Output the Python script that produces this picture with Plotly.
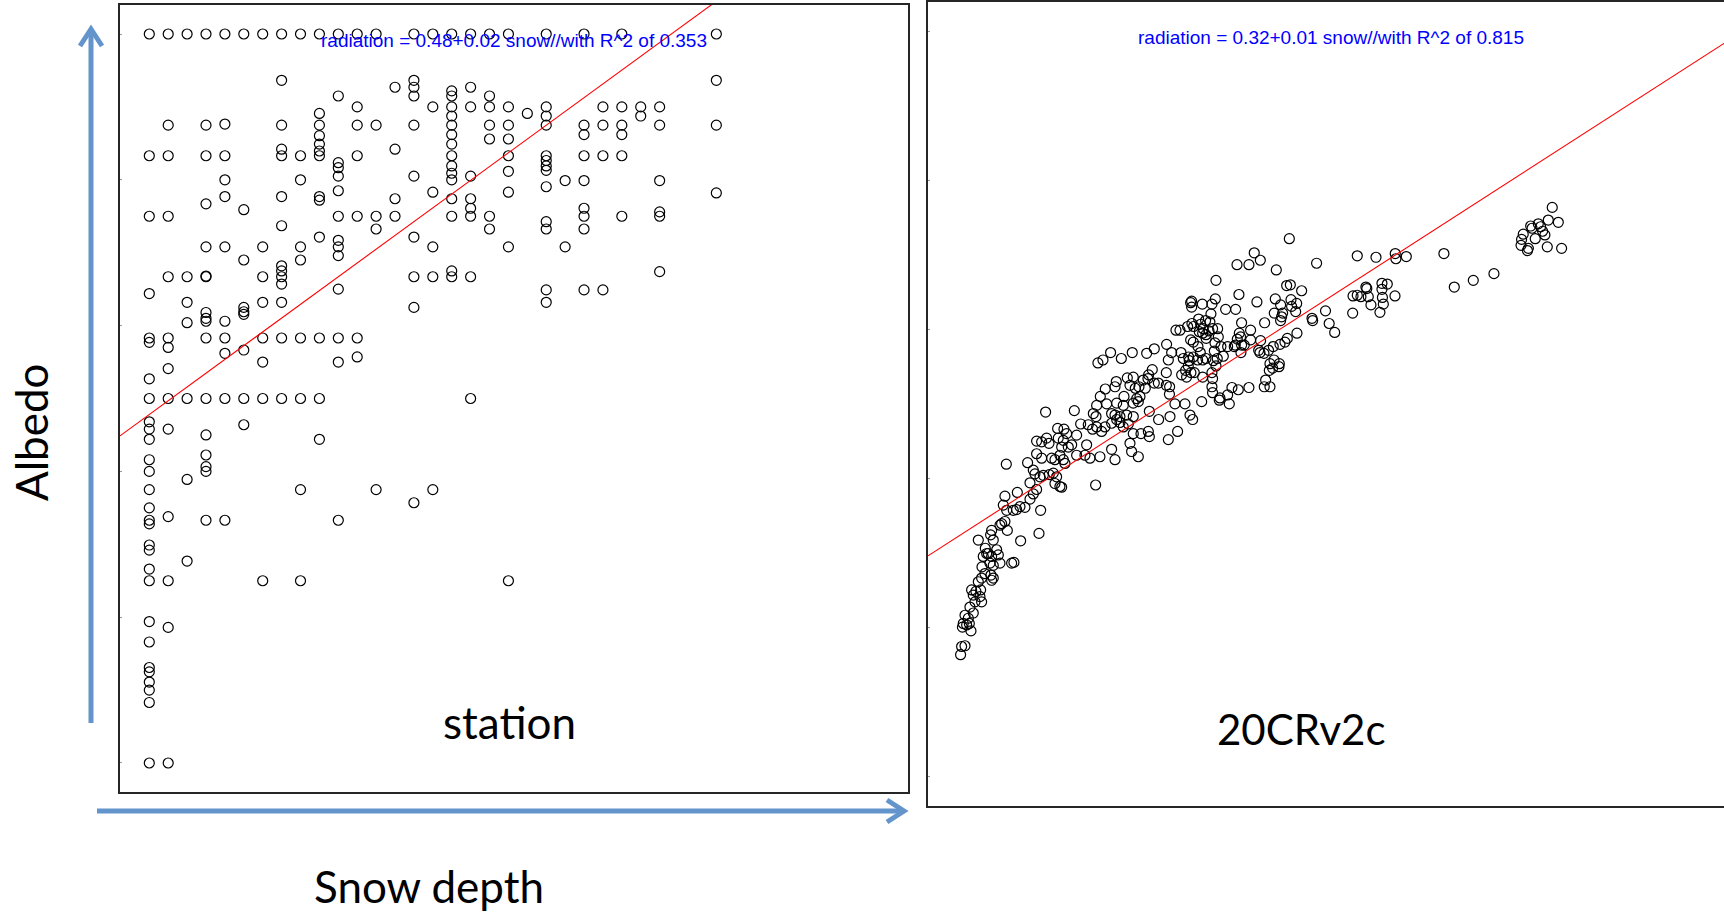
import plotly.graph_objects as go

# ---------------------------------------------------------------
# Station observations: snow depth (cm) against surface albedo
# ---------------------------------------------------------------
station_depth = (
    [0] * 29 + [1] * 14 + [2] * 7 + [3] * 17 + [4] * 11 + [5] * 9 + [6] * 8
    + [7] * 14 + [8] * 9 + [9] * 13 + [10] * 14 + [11] * 7 + [12] * 5
    + [13] * 4 + [14] * 10 + [15] * 6 + [16] * 16 + [17] * 9 + [18] * 7
    + [19] * 9 + [20] * 1 + [21] * 13 + [22] * 2 + [23] * 9 + [24] * 4
    + [25] * 6 + [26] * 2 + [27] * 6 + [30] * 4
)
station_albedo = [
    # depth 0
    1.0, 0.833, 0.75, 0.644, 0.583, 0.577, 0.527, 0.5, 0.468, 0.458,
    0.444, 0.416, 0.4, 0.375, 0.35, 0.333, 0.328, 0.299, 0.292, 0.266,
    0.25, 0.194, 0.166, 0.131, 0.125, 0.111, 0.1, 0.083, 0.0,
    # depth 1
    1.0, 0.875, 0.833, 0.75, 0.667, 0.583, 0.57, 0.541, 0.5, 0.458,
    0.338, 0.25, 0.186, 0.0,
    # depth 2
    1.0, 0.667, 0.632, 0.604, 0.5, 0.389, 0.277,
    # depth 3
    1.0, 0.875, 0.833, 0.767, 0.708, 0.668, 0.667, 0.618, 0.61, 0.606,
    0.583, 0.5, 0.45, 0.4225, 0.4065, 0.4, 0.333,
    # depth 4
    1.0, 0.8765, 0.833, 0.8, 0.777, 0.708, 0.606, 0.583, 0.562, 0.5, 0.333,
    # depth 5
    1.0, 0.759, 0.69, 0.625, 0.619, 0.6155, 0.5665, 0.5, 0.464,
    # depth 6
    1.0, 0.708, 0.667, 0.632, 0.583, 0.55, 0.5, 0.25,
    # depth 7
    1.0, 0.9365, 0.875, 0.842, 0.833, 0.777, 0.737, 0.682, 0.675, 0.667,
    0.657, 0.632, 0.583, 0.5,
    # depth 8
    1.0, 0.833, 0.8, 0.708, 0.69, 0.583, 0.5, 0.375, 0.25,
    # depth 9
    1.0, 0.891, 0.875, 0.8605, 0.849, 0.8395, 0.833, 0.777, 0.772, 0.7215,
    0.583, 0.5, 0.444,
    # depth 10
    1.0, 0.915, 0.8235, 0.8166, 0.805, 0.785, 0.75, 0.717, 0.708, 0.696,
    0.65, 0.583, 0.55, 0.333,
    # depth 11
    1.0, 0.9, 0.875, 0.833, 0.75, 0.583, 0.557,
    # depth 12
    1.0, 0.875, 0.75, 0.7325, 0.375,
    # depth 13
    0.927, 0.842, 0.774, 0.75,
    # depth 14
    1.0, 0.9365, 0.927, 0.915, 0.875, 0.805, 0.7215, 0.667, 0.625, 0.357,
    # depth 15
    1.0, 0.9, 0.783, 0.708, 0.667, 0.375,
    # depth 16
    1.0, 0.922, 0.915, 0.9, 0.8875, 0.875, 0.862, 0.849, 0.833, 0.819,
    0.809, 0.8, 0.774, 0.75, 0.675, 0.667,
    # depth 17
    1.0, 0.927, 0.9, 0.805, 0.774, 0.761, 0.75, 0.667, 0.5,
    # depth 18
    1.0, 0.915, 0.9, 0.875, 0.856, 0.75, 0.7325,
    # depth 19
    1.0, 0.9, 0.875, 0.856, 0.833, 0.8117, 0.783, 0.708, 0.25,
    # depth 20
    0.891,
    # depth 21
    1.0, 0.9, 0.8875, 0.875, 0.833, 0.8265, 0.819, 0.813, 0.7905, 0.7425,
    0.7325, 0.649, 0.632,
    # depth 22
    0.799, 0.708,
    # depth 23
    1.0, 0.875, 0.862, 0.833, 0.799, 0.761, 0.75, 0.7325, 0.649,
    # depth 24
    0.9, 0.875, 0.833, 0.649,
    # depth 25
    1.0, 0.9, 0.875, 0.862, 0.833, 0.75,
    # depth 26
    0.9, 0.8875,
    # depth 27
    0.9, 0.875, 0.799, 0.756, 0.75, 0.674,
    # depth 30
    1.0, 0.9365, 0.875, 0.782,
]
station_fit = (0.478, 0.0189)      # intercept, slope of the least-squares line
station_r2 = 0.353

# ---------------------------------------------------------------
# 20CRv2c reanalysis: snow depth (cm) against surface albedo
# ---------------------------------------------------------------
reanalysis_depth = [
    9.51, 12.64, 13.33, 14.71, 15.00, 15.07, 16.16, 17.25, 17.97, 19.06,
    19.61, 16.70, 17.07, 17.61, 18.34, 19.06, 20.81, 21.82, 23.06, 23.60,
    24.69, 25.24, 25.53, 26.51, 28.43, 29.52, 14.16, 14.63, 15.07, 15.61,
    15.98, 16.70, 17.25, 17.61, 17.97, 18.52, 19.06, 19.90, 20.70, 20.81,
    22.88, 23.89, 12.89, 10.82, 11.51, 11.80, 10.89, 11.44, 11.26, 11.98,
    12.35, 8.53, 9.08, 9.62, 9.88, 8.53, 9.08, 10.17, 10.53, 11.07,
    11.44, 11.62, 12.89, 13.98, 13.80, 14.34, 15.43, 16.70, 17.07, 18.70,
    18.88, 19.61, 5.23, 7.55, 8.17, 8.35, 8.90, 9.26, 9.91, 10.35,
    10.71, 10.53, 11.07, 11.26, 14.96, 7.81, 8.53, 8.17, 7.81, 6.72,
    7.26, 6.35, 5.99, 5.27, 4.90, 5.08, 6.43, 8.97, 4.72, 5.08,
    5.34, 4.54, 3.63, 3.52, 3.81, 2.18, 6.79, 8.79, 2.94, 3.09,
    2.72, 3.27, 3.63, 4.18, 4.36, 4.54, 3.45, 3.81, 5.81, 6.06,
    2.58, 2.90, 2.54, 2.18, 3.56, 3.81, 3.63, 1.45, 1.92, 2.43,
    1.63, 2.36, 2.54, 1.82, 1.27, 1.63, 0.73, 1.09, 0.54, 1.20,
    0.91, 1.38, 0.45, 0.36, 0.73, 0.25,
    36.06, 32.24, 32.90, 30.36, 31.66, 34.64, 28.07, 35.77, 36.17, 30.57,
    28.00, 25.42, 25.31, 25.42, 26.58, 27.63, 32.53, 34.53, 36.24, 36.86,
    36.31, 35.11, 34.42, 35.33, 35.22, 35.11, 36.75, 29.12, 30.21, 27.52,
    30.86, 33.37, 36.89, 26.18, 26.94, 26.40, 27.41, 26.69, 27.70, 27.31,
    26.25, 26.62, 26.98, 25.45, 24.98, 25.63, 28.25, 31.84, 23.71, 24.15,
    30.61, 30.75, 30.39, 31.84, 30.17, 30.86, 32.93, 35.04, 35.58, 28.32,
    27.96, 27.00, 25.31, 25.60, 26.11, 27.89, 28.61, 29.34, 30.06, 31.15,
    30.79, 32.72, 33.80, 34.31, 32.86, 33.30, 34.39, 33.95, 34.97, 34.24,
    34.93, 22.69, 21.35, 20.52, 18.95, 16.59, 15.76, 15.21, 17.76, 22.88,
    23.24, 24.26, 24.51, 25.09, 25.60, 25.16, 25.05, 26.36, 26.62, 26.07,
    26.98, 28.21, 27.78, 28.07, 28.87, 24.76, 25.34, 25.71, 24.33, 24.87,
    27.63, 26.62, 27.70, 27.63, 27.70, 28.50, 29.34, 29.81, 30.50, 31.66,
    22.66, 22.66, 23.02, 23.00, 20.73, 21.13, 20.66, 20.15, 20.37, 19.06,
    18.41, 18.70, 19.28, 19.68, 19.79, 19.43, 18.05, 17.21, 17.07, 16.01,
    15.47, 21.35, 21.79, 33.33, 33.95, 33.48, 33.88, 35.84,
    39.03, 43.46, 45.50, 47.60, 47.67, 48.80, 52.90, 54.03, 56.10, 58.35,
    37.40, 38.53, 38.60, 40.00, 40.40, 41.00, 42.96, 43.00, 43.46, 43.86,
    44.40, 44.50, 44.66, 44.95, 45.93, 46.15, 46.73, 46.15, 46.20, 46.30,
    47.57, 61.30, 61.36, 61.54, 62.00, 62.10, 62.35, 62.50, 62.85, 63.18,
    63.43, 63.65, 63.90, 64.16, 64.27, 64.70, 65.36, 65.72,
]
reanalysis_albedo = [
    0.489, 0.491, 0.473, 0.487, 0.483, 0.498, 0.500, 0.501, 0.498, 0.501,
    0.503, 0.487, 0.485, 0.483, 0.485, 0.483, 0.490, 0.479, 0.483, 0.500,
    0.500, 0.485, 0.479, 0.503, 0.505, 0.500, 0.472, 0.466, 0.469, 0.463,
    0.469, 0.474, 0.479, 0.475, 0.469, 0.473, 0.460, 0.460, 0.463, 0.456,
    0.452, 0.463, 0.458, 0.467, 0.466, 0.460, 0.454, 0.451, 0.442, 0.442,
    0.445, 0.450, 0.449, 0.454, 0.447, 0.433, 0.427, 0.427, 0.425, 0.431,
    0.425, 0.420, 0.431, 0.445, 0.431, 0.427, 0.429, 0.439, 0.425, 0.447,
    0.436, 0.429, 0.419, 0.421, 0.411, 0.406, 0.402, 0.404, 0.405, 0.407,
    0.402, 0.393, 0.389, 0.388, 0.391, 0.394, 0.385, 0.379, 0.372, 0.362,
    0.361, 0.358, 0.357, 0.357, 0.364, 0.376, 0.381, 0.357, 0.339, 0.342,
    0.330, 0.337, 0.330, 0.324, 0.317, 0.317, 0.316, 0.326, 0.306, 0.299,
    0.295, 0.299, 0.295, 0.304, 0.297, 0.286, 0.286, 0.283, 0.286, 0.287,
    0.281, 0.272, 0.266, 0.261, 0.270, 0.266, 0.263, 0.250, 0.248, 0.250,
    0.243, 0.241, 0.234, 0.234, 0.227, 0.219, 0.216, 0.212, 0.205, 0.205,
    0.203, 0.195, 0.200, 0.174, 0.175, 0.163,
    0.722, 0.703, 0.693, 0.687, 0.687, 0.680, 0.666, 0.659, 0.660, 0.647,
    0.641, 0.638, 0.636, 0.630, 0.634, 0.634, 0.637, 0.641, 0.640, 0.635,
    0.631, 0.633, 0.622, 0.622, 0.617, 0.612, 0.624, 0.627, 0.627, 0.621,
    0.609, 0.609, 0.595, 0.614, 0.612, 0.607, 0.610, 0.601, 0.601, 0.598,
    0.597, 0.595, 0.593, 0.608, 0.604, 0.604, 0.601, 0.599, 0.599, 0.599,
    0.595, 0.590, 0.587, 0.586, 0.579, 0.579, 0.585, 0.580, 0.583, 0.590,
    0.582, 0.588, 0.586, 0.583, 0.577, 0.571, 0.577, 0.577, 0.577, 0.579,
    0.569, 0.572, 0.572, 0.577, 0.569, 0.568, 0.559, 0.554, 0.554, 0.548,
    0.550, 0.580, 0.574, 0.568, 0.569, 0.569, 0.559, 0.555, 0.561, 0.559,
    0.569, 0.569, 0.561, 0.563, 0.563, 0.558, 0.551, 0.569, 0.559, 0.559,
    0.561, 0.561, 0.558, 0.551, 0.564, 0.545, 0.542, 0.542, 0.539, 0.536,
    0.542, 0.536, 0.534, 0.523, 0.515, 0.508, 0.512, 0.522, 0.519, 0.522,
    0.542, 0.525, 0.523, 0.513, 0.539, 0.546, 0.534, 0.532, 0.521, 0.536,
    0.535, 0.525, 0.521, 0.523, 0.510, 0.507, 0.510, 0.530, 0.523, 0.520,
    0.510, 0.528, 0.528, 0.523, 0.523, 0.532, 0.545, 0.588,
    0.689, 0.699, 0.697, 0.702, 0.695, 0.698, 0.702, 0.657, 0.666, 0.675,
    0.652, 0.615, 0.612, 0.625, 0.608, 0.596, 0.622, 0.645, 0.646, 0.644,
    0.657, 0.655, 0.644, 0.633, 0.623, 0.662, 0.661, 0.654, 0.643, 0.634,
    0.645, 0.713, 0.721, 0.728, 0.706, 0.709, 0.739, 0.736, 0.722, 0.742,
    0.738, 0.732, 0.727, 0.711, 0.747, 0.764, 0.744, 0.709,
]
reanalysis_fit = (0.322, 0.00794)  # intercept, slope of the least-squares line
reanalysis_r2 = 0.815

albedo_ticks = [0, 0.2, 0.4, 0.6, 0.8, 1.0]

# ---------------------------------------------------------------
W, H = 1724, 912
FRAME = "#262626"
ARROW = "#6395CC"
BIG_FONT = "Lato, Carlito, Calibri, sans-serif"
FORMULA_FONT = "Liberation Sans, Arial, Helvetica, sans-serif"

station_xrange = [-1.55, 40.14]
station_yrange = [-0.0398, 1.0398]
reanalysis_xrange = [-3.30, 83.41]
reanalysis_yrange = [-0.0403, 1.040]


def fit_line(fit, xrange):
    a, b = fit
    xs = list(xrange)
    return xs, [a + b * x for x in xs]


def fit_label(fit, r2):
    a, b = fit
    return f"radiation = {a:.2f}+{b:.2f} snow//with R^2 of {r2:.3f}"


fig = go.Figure()

open_circle = dict(symbol="circle-open", size=10, color="black",
                   line=dict(width=1.2, color="black"))

fig.add_trace(go.Scatter(x=station_depth, y=station_albedo, mode="markers",
                         marker=open_circle, xaxis="x", yaxis="y",
                         hoverinfo="x+y"))
sx, sy = fit_line(station_fit, station_xrange)
fig.add_trace(go.Scatter(x=sx, y=sy, mode="lines",
                         line=dict(color="#FF0000", width=1.1),
                         xaxis="x", yaxis="y", hoverinfo="skip"))

fig.add_trace(go.Scatter(x=reanalysis_depth, y=reanalysis_albedo,
                         mode="markers", marker=open_circle,
                         xaxis="x2", yaxis="y2", hoverinfo="x+y"))
rx, ry = fit_line(reanalysis_fit, reanalysis_xrange)
fig.add_trace(go.Scatter(x=rx, y=ry, mode="lines",
                         line=dict(color="#FF0000", width=1.1),
                         xaxis="x2", yaxis="y2", hoverinfo="skip"))

x_common = dict(showgrid=False, zeroline=False, showticklabels=False,
                showline=True, linecolor=FRAME, linewidth=1.5,
                ticks="", fixedrange=True)
y_common = dict(x_common, ticks="inside", ticklen=2, tickwidth=1,
                tickcolor="#999999", tickvals=albedo_ticks)


def px_x(p):
    return p / W


def px_y(p):
    return (H - p) / H


fig.update_layout(
    width=W, height=H,
    margin=dict(l=0, r=0, t=0, b=0),
    paper_bgcolor="white", plot_bgcolor="white",
    showlegend=False,
    xaxis=dict(x_common, domain=[px_x(120), px_x(908)],
               range=station_xrange, mirror=True, anchor="y"),
    yaxis=dict(y_common, domain=[px_y(792), px_y(5)],
               range=station_yrange, mirror=True, anchor="x"),
    xaxis2=dict(x_common, domain=[px_x(928), 1.0],
                range=reanalysis_xrange, mirror=True, anchor="y2"),
    yaxis2=dict(y_common, domain=[px_y(806), px_y(2)],
                range=reanalysis_yrange, mirror=False, anchor="x2"),
)

annotations = [
    dict(text=fit_label(station_fit, station_r2), x=px_x(513.5), y=px_y(40),
         font=dict(family=FORMULA_FONT, size=19, color="#0000FF")),
    dict(text=fit_label(reanalysis_fit, reanalysis_r2), x=px_x(1330.5),
         y=px_y(37),
         font=dict(family=FORMULA_FONT, size=19, color="#0000FF")),
    dict(text="station", x=px_x(509), y=px_y(722),
         font=dict(family=BIG_FONT, size=44, color="black")),
    dict(text="20CRv2c", x=px_x(1301), y=px_y(729),
         font=dict(family=BIG_FONT, size=42, color="black")),
    dict(text="Snow depth", x=px_x(429), y=px_y(886),
         font=dict(family=BIG_FONT, size=44, color="black")),
    dict(text="Albedo", x=px_x(31), y=px_y(432), textangle=-90,
         font=dict(family=BIG_FONT, size=44, color="black")),
]
for a in annotations:
    a.update(xref="paper", yref="paper", showarrow=False,
             xanchor="center", yanchor="middle")
fig.update_layout(annotations=annotations)

# Blue axis arrows drawn beside the station panel
arrow_line = dict(color=ARROW, width=5)
shapes = [
    dict(type="line", x0=px_x(91), x1=px_x(91), y0=px_y(723), y1=px_y(30),
         line=arrow_line),
    dict(type="path",
         path=f"M {px_x(80)} {px_y(46)} L {px_x(91)} {px_y(29)} "
              f"L {px_x(102)} {px_y(46)}",
         line=arrow_line),
    dict(type="line", x0=px_x(97), x1=px_x(902), y0=px_y(811), y1=px_y(811),
         line=arrow_line),
    dict(type="path",
         path=f"M {px_x(887)} {px_y(800)} L {px_x(904)} {px_y(811)} "
              f"L {px_x(887)} {px_y(822)}",
         line=arrow_line),
]
for s in shapes:
    s.update(xref="paper", yref="paper", layer="above")
fig.update_layout(shapes=shapes)

fig.write_html("out.html")
